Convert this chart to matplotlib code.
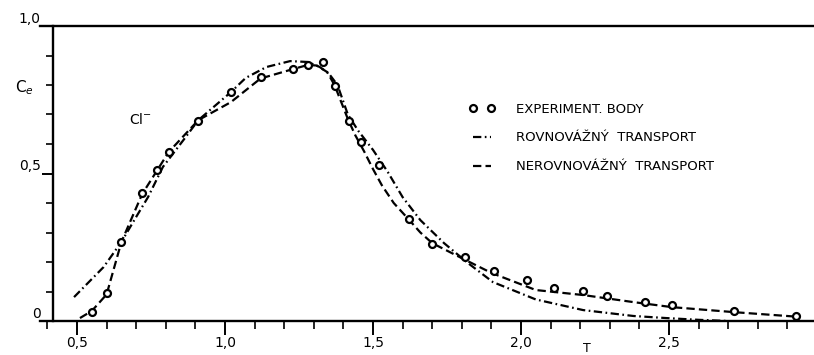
import matplotlib
matplotlib.use("Agg")
import matplotlib.pyplot as plt
from matplotlib import font_manager

# experimentalni body
t_exp = [0.55, 0.60, 0.65, 0.72, 0.77, 0.81, 0.91, 1.02, 1.12, 1.23, 1.28, 1.33, 1.37, 1.42,
         1.46, 1.52, 1.62, 1.70, 1.81, 1.91, 2.02, 2.11, 2.21, 2.29, 2.42, 2.51, 2.72, 2.93]
c_exp = [0.031, 0.095, 0.268, 0.434, 0.512, 0.573, 0.678, 0.776, 0.827, 0.854, 0.868, 0.878, 0.797, 0.678,
         0.607, 0.529, 0.346, 0.261, 0.217, 0.169, 0.139, 0.112, 0.102, 0.085, 0.064, 0.054, 0.034, 0.017]

# rovnovazny transport (cerchovana)
t_rov = [0.49, 0.59, 0.65, 0.70, 0.74, 0.79, 0.86, 0.91, 1.02, 1.07, 1.14, 1.22, 1.28, 1.32, 1.35, 1.38,
         1.415, 1.45, 1.50, 1.55, 1.60, 1.66, 1.74, 1.82, 1.905, 2.05, 2.21, 2.38, 2.49, 2.60, 2.70]
c_rov = [0.081, 0.183, 0.268, 0.353, 0.42, 0.522, 0.614, 0.681, 0.776, 0.824, 0.861, 0.881, 0.878, 0.861, 0.84, 0.80,
         0.70, 0.645, 0.58, 0.505, 0.42, 0.342, 0.264, 0.197, 0.132, 0.073, 0.037, 0.017, 0.01, 0.004, 0.0]

# nerovnovazny transport (carkovana)
t_ner = [0.51, 0.55, 0.60, 0.65, 0.72, 0.81, 0.91, 1.02, 1.12, 1.23, 1.28, 1.31, 1.345, 1.37, 1.415,
         1.44, 1.47, 1.50, 1.53, 1.57, 1.62, 1.66, 1.70, 1.80, 1.90, 2.05, 2.21, 2.38, 2.51, 2.72, 2.94]
c_ner = [0.01, 0.034, 0.09, 0.268, 0.43, 0.573, 0.681, 0.742, 0.822, 0.854, 0.868, 0.866, 0.844, 0.80, 0.685,
         0.63, 0.575, 0.515, 0.46, 0.40, 0.345, 0.30, 0.264, 0.213, 0.163, 0.105, 0.088, 0.064, 0.047, 0.03, 0.014]

x_major = [0.5, 1.0, 1.5, 2.0, 2.5]
x_labels = ['0,5', '1,0', '1,5', '2,0', '2,5']
y_major = [0, 0.5, 1.0]
y_labels = ['0', '0,5', '1,0']

names = {f.name for f in font_manager.fontManager.ttflist}
font = 'Liberation Sans Narrow' if 'Liberation Sans Narrow' in names else 'DejaVu Sans'
plt.rcParams['font.family'] = [font, 'DejaVu Sans']
plt.rcParams['lines.scale_dashes'] = False

W, H = 814, 355
fig = plt.figure(figsize=(W / 100, H / 100), dpi=100)
ax = fig.add_axes([40 / W, 34 / H, (W - 40) / W, 295 / H])

ax.plot(t_rov, c_rov, color='black', lw=1.6, linestyle=(0, (6, 2.5, 1.2, 2.5)),
        label='ROVNOVÁŽNÝ  TRANSPORT')
ax.plot(t_ner, c_ner, color='black', lw=1.6, linestyle=(0, (6, 3)),
        label='NEROVNOVÁŽNÝ  TRANSPORT')
ax.plot(t_exp, c_exp, linestyle='none', marker='o', ms=5, mew=1.6, mfc='white', mec='black',
        clip_on=False, label='EXPERIMENT. BODY', zorder=5)

ax.set_xlim(0.375, 0.5 + (W - 77) / 296)
ax.set_ylim(0, 1.0)

ax.spines['right'].set_visible(False)
ax.spines['left'].set_position(('data', 0.419))
for s in ['left', 'bottom', 'top']:
    ax.spines[s].set_linewidth(1.7)

ax.set_xticks(x_major, x_labels, fontsize=10)
ax.set_xticks([round(0.4 + 0.1 * i, 1) for i in range(26)], minor=True)
ax.set_yticks(y_major, y_labels, fontsize=10)
ax.set_yticks([0.1 * i for i in range(11)], minor=True)
ax.tick_params(axis='x', which='major', direction='out', length=10, width=1.4, pad=1)
ax.tick_params(axis='x', which='minor', direction='out', length=6, width=1.2)
ax.tick_params(axis='y', which='major', direction='out', length=8, width=1.4, pad=1)
ax.tick_params(axis='y', which='minor', direction='out', length=5, width=1.2)
for lab in ax.get_yticklabels():
    lab.set_verticalalignment('bottom')

h = ax.get_legend_handles_labels()[0]
leg = ax.legend([h[2], h[0], h[1]], ['EXPERIMENT. BODY', 'ROVNOVÁŽNÝ  TRANSPORT', 'NEROVNOVÁŽNÝ  TRANSPORT'],
                loc='upper left', bbox_to_anchor=(462 / W, 1 - 96 / H), bbox_transform=fig.transFigure,
                frameon=False, numpoints=2, handlelength=2.0, handletextpad=1.6, labelspacing=1.2,
                borderpad=0, prop={'size': 9.5})

fig.text(24 / W, 1 - 88 / H, 'C$_e$', fontsize=11, ha='center', va='center')
fig.text(140 / W, 1 - 119 / H, 'Cl$^{-}$', fontsize=10, ha='center', va='center')
fig.text(587 / W, 1 - 349 / H, 'T', fontsize=9, ha='center', va='center')

fig.savefig('out.png', dpi=100)
